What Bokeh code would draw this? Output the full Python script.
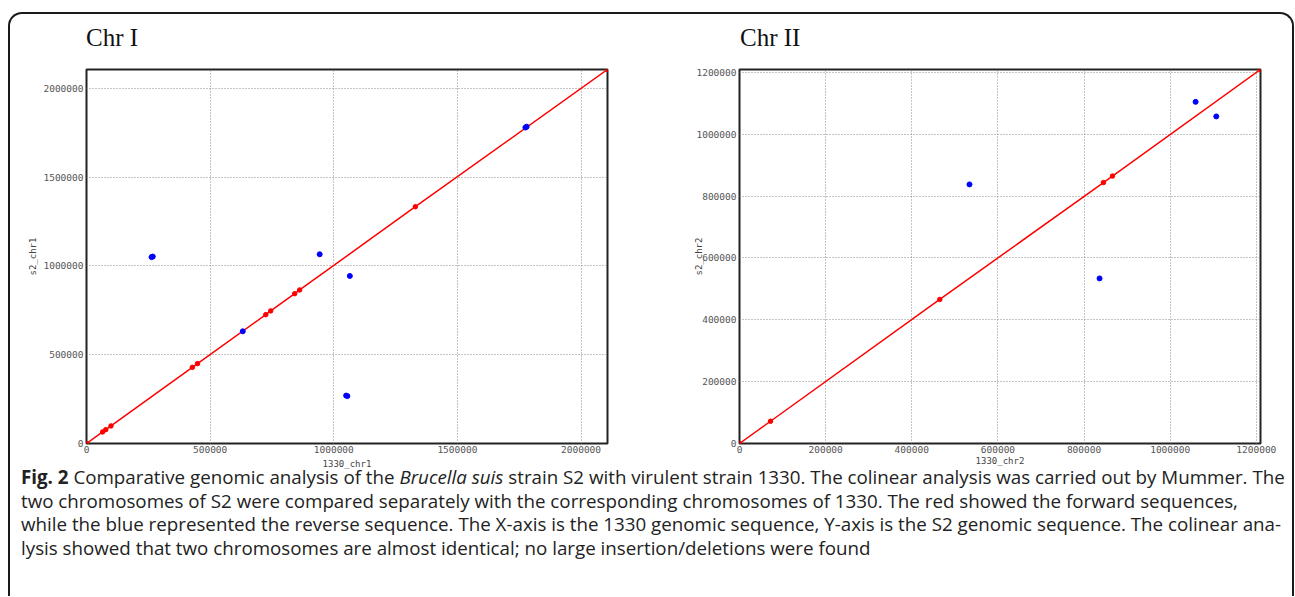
from bokeh.plotting import figure
from bokeh.models import FixedTicker, BasicTickFormatter, Div, Range1d
from bokeh.layouts import row, column
from bokeh.embed import file_html
from bokeh.resources import INLINE

# ---------------- data ----------------
chr1_title = "Chr I"
chr1_xlabel = "1330_chr1"
chr1_ylabel = "s2_chr1"
chr1_len_x = 2107000
chr1_len_y = 2107000
chr1_ticks = [0, 500000, 1000000, 1500000, 2000000]
chr1_fwd_x = [0, 65000, 78000, 99000, 428000, 449000, 725000, 745000, 842000, 862000, 1330000, 2107000]
chr1_fwd_y = [0, 65000, 78000, 99000, 429000, 450000, 726000, 747000, 844000, 865000, 1334000, 2107000]
chr1_rev_x = [263000, 268000, 632000, 943000, 1065000, 1050000, 1055000, 1775000, 1780000]
chr1_rev_y = [1050000, 1053000, 632000, 1066000, 944000, 270000, 267000, 1780000, 1785000]

chr2_title = "Chr II"
chr2_xlabel = "1330_chr2"
chr2_ylabel = "s2_chr2"
chr2_len_x = 1209700
chr2_len_y = 1209700
chr2_ticks = [0, 200000, 400000, 600000, 800000, 1000000, 1200000]
chr2_fwd_x = [0, 72000, 465000, 845000, 866000, 1209700]
chr2_fwd_y = [0, 72000, 466000, 844000, 865000, 1209700]
chr2_rev_x = [534000, 836000, 1059000, 1107000]
chr2_rev_y = [838000, 534000, 1105000, 1058000]

caption_lines = [
    "<b>Fig. 2</b> Comparative genomic analysis of the <i>Brucella suis</i> strain S2 with virulent strain 1330. The colinear analysis was carried out by Mummer. The",
    "two chromosomes of S2 were compared separately with the corresponding chromosomes of 1330. The red showed the forward sequences,",
    "while the blue represented the reverse sequence. The X-axis is the 1330 genomic sequence, Y-axis is the S2 genomic sequence. The colinear ana-",
    "lysis showed that two chromosomes are almost identical; no large insertion/deletions were found",
]

TITLE_H = 40
MB_TOP = 15
FRAME_H = 374
MB_BOTTOM = 37
FIG_H = MB_TOP + FRAME_H + MB_BOTTOM


def make_fig(xlabel, ylabel, lx, ly, ticks, fx, fy, rx, ry, width, mb_left, mb_right,
             ylab_standoff, xlab_standoff):
    p = figure(width=width, height=FIG_H,
               x_range=Range1d(0, lx), y_range=Range1d(0, ly),
               output_backend="svg", toolbar_location=None,
               min_border_left=mb_left, min_border_right=mb_right,
               min_border_top=MB_TOP, min_border_bottom=MB_BOTTOM,
               background_fill_color="white", border_fill_color="white")
    p.title.text = ""
    p.title.standoff = 0
    p.title.text_font_size = "1px"

    p.outline_line_color = "#222222"
    p.outline_line_width = 2
    p.outline_line_alpha = 1

    for ax in (p.xaxis[0], p.yaxis[0]):
        ax.ticker = FixedTicker(ticks=ticks)
        ax.formatter = BasicTickFormatter(use_scientific=False)
        ax.axis_line_color = None
        ax.major_tick_line_color = None
        ax.minor_tick_line_color = None
        ax.major_tick_out = 0
        ax.major_tick_in = 0
        ax.minor_tick_out = 0
        ax.minor_tick_in = 0
        ax.major_label_text_font = "DejaVu Sans Mono"
        ax.major_label_text_font_size = "9.5px"
        ax.major_label_text_color = "#555555"
        ax.axis_label_text_font = "DejaVu Sans Mono"
        ax.axis_label_text_font_size = "9px"
        ax.axis_label_text_font_style = "normal"
        ax.axis_label_text_color = "#444444"
    p.xaxis[0].major_label_standoff = 2
    p.yaxis[0].major_label_standoff = 3
    p.xaxis[0].axis_label = xlabel
    p.yaxis[0].axis_label = ylabel
    p.xaxis[0].axis_label_standoff = xlab_standoff
    p.yaxis[0].axis_label_standoff = ylab_standoff

    for g in (p.xgrid[0], p.ygrid[0]):
        g.ticker = FixedTicker(ticks=ticks)
        g.grid_line_color = "#8a8a8a"
        g.grid_line_dash = "1 2"
        g.grid_line_width = 1

    p.line(fx, fy, line_color="#ff0000", line_width=1.5)
    p.scatter(fx, fy, size=4.5, fill_color="#ff0000", line_color="#ff0000")
    p.scatter(rx, ry, size=5, fill_color="#0000ff", line_color="#0000ff")
    return p


def title_div(text, width, pad_left):
    html = ("<div style=\"padding-left:%dpx; padding-top:10px; font-family:'Liberation Serif'; "
            "font-size:25px; line-height:28px; color:#111; white-space:nowrap;\">%s</div>" % (pad_left, text))
    return Div(text=html, width=width, height=TITLE_H, margin=0)


W1, W2 = 650, 632
p1 = make_fig(chr1_xlabel, chr1_ylabel, chr1_len_x, chr1_len_y, chr1_ticks,
              chr1_fwd_x, chr1_fwd_y, chr1_rev_x, chr1_rev_y, W1, 76, 53, 2, 3)
p2 = make_fig(chr2_xlabel, chr2_ylabel, chr2_len_x, chr2_len_y, chr2_ticks,
              chr2_fwd_x, chr2_fwd_y, chr2_rev_x, chr2_rev_y, W2, 79, 32, -11, 0)

t1 = title_div(chr1_title, W1, 76)
t2 = title_div(chr2_title, W2, 80)

cap_html = ("<div style=\"position:relative; top:-15px; padding-left:11px; "
            "font-family:'Open Sans'; font-size:18.75px; line-height:23.5px; color:#222; white-space:nowrap;\">"
            + "<br>".join(caption_lines) + "</div>")
caption = Div(text=cap_html, width=W1 + W2, height=116, margin=0)

layout = column(row(t1, t2), row(p1, p2), caption, margin=(12, 0, 0, 8),
                styles={"border": "2px solid #1a1a1a", "border-bottom": "none",
                        "border-radius": "14px 14px 0 0"})

open("out.html", "w").write(file_html(layout, INLINE))
